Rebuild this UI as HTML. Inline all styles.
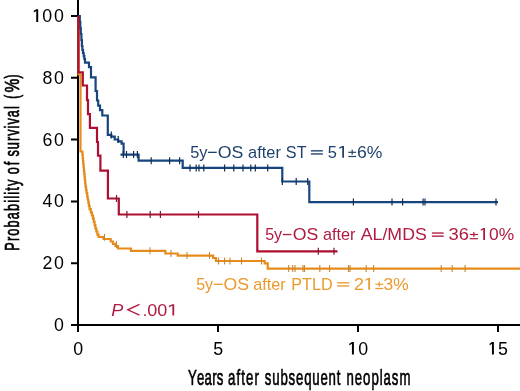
<!DOCTYPE html>
<html><head><meta charset="utf-8">
<style>
html,body{margin:0;padding:0;background:#fff;width:520px;height:391px;overflow:hidden}
svg{display:block;will-change:transform}
text{font-family:"Liberation Sans",sans-serif;font-kerning:none}
</style></head>
<body>
<svg width="520" height="391" viewBox="0 0 520 391">
<rect width="520" height="391" fill="#fff"/>
<g stroke="#000" stroke-width="2" fill="none">
<path d="M78 0V326M77 325H520"/>
<path d="M71 16H78M71 77.8H78M71 139.6H78M71 201.4H78M71 263.2H78M71 325H78"/>
<path d="M78 325V332M218 325V332M358 325V332M498 325V332"/>
</g>
<text x="42.60" y="83.90" font-size="17.8" fill="#000" letter-spacing="1.50" >80</text>
<text x="42.60" y="145.60" font-size="17.8" fill="#000" letter-spacing="1.50" >60</text>
<text x="42.60" y="207.40" font-size="17.8" fill="#000" letter-spacing="1.50" >40</text>
<text x="42.60" y="269.20" font-size="17.8" fill="#000" letter-spacing="1.50" >20</text>
<text x="54.00" y="330.70" font-size="17.8" fill="#000" letter-spacing="1.50" >0</text>
<path d="M38.20 9.20V21.90H36.24V10.89L33.80 12.49V10.80L36.24 9.20Z" fill="#000"/>
<text x="42.30" y="21.90" font-size="17.8" fill="#000" letter-spacing="1.79" >00</text>
<text x="73.35" y="354.70" font-size="17.8" fill="#000" letter-spacing="1.50" >0</text>
<text x="213.27" y="354.70" font-size="17.8" fill="#000" letter-spacing="1.50" >5</text>
<path d="M353.90 342.10V354.50H351.94V343.79L349.30 345.39V343.70L351.94 342.10Z" fill="#000"/>
<text x="358.30" y="354.70" font-size="17.8" fill="#000" >0</text>
<path d="M493.90 342.10V354.50H491.94V343.79L489.60 345.39V343.70L491.94 342.10Z" fill="#000"/>
<text x="498.09" y="354.70" font-size="17.8" fill="#000" >5</text>
<text transform="matrix(0.5800 0 0 1 188.01 385.20)" font-size="22.8" letter-spacing="0.355" fill="#000" stroke="#000" stroke-width="0.7">Years</text>
<text transform="matrix(0.5800 0 0 1 228.04 385.20)" font-size="22.8" letter-spacing="1.862" fill="#000" stroke="#000" stroke-width="0.7">after</text>
<text transform="matrix(0.5800 0 0 1 264.83 385.20)" font-size="22.8" letter-spacing="1.396" fill="#000" stroke="#000" stroke-width="0.7">subsequent</text>
<text transform="matrix(0.5800 0 0 1 346.52 385.20)" font-size="22.8" letter-spacing="1.628" fill="#000" stroke="#000" stroke-width="0.7">neoplasm</text>
<g transform="translate(18.5 0) rotate(-90)"><text transform="matrix(0.6200 0 0 1 -250.74 0.00)" font-size="20.5" letter-spacing="1.907" fill="#000" stroke="#000" stroke-width="0.7">Probability</text><text transform="matrix(0.6200 0 0 1 -174.23 0.00)" font-size="20.5" letter-spacing="3.250" fill="#000" stroke="#000" stroke-width="0.7">of</text><text transform="matrix(0.6200 0 0 1 -156.55 0.00)" font-size="20.5" letter-spacing="1.664" fill="#000" stroke="#000" stroke-width="0.7">survival</text><text transform="matrix(0.5703 0 0 1 -98.83 0.00)" font-size="20.5" letter-spacing="0.000" fill="#000" stroke="#000" stroke-width="0.7">(</text><text transform="matrix(0.7575 0 0 1 -92.45 0.00)" font-size="20.5" letter-spacing="0.000" fill="#000" stroke="#000" stroke-width="0.7">%</text><text transform="matrix(0.5887 0 0 1 -78.47 0.00)" font-size="20.5" letter-spacing="0.000" fill="#000" stroke="#000" stroke-width="0.7">)</text></g>
<g fill="none" stroke-width="2.2" stroke-linejoin="miter" stroke-linecap="butt">
<path stroke="#e68c1d" d="M78.5 16V74.5H80.5V151.5H82.4V154.7H82.7V157.9H83.0V161.1H83.3V164.3H83.6V167.5H83.9V170.7H84.2V173.9H84.6V177.1H84.9V180.3H85.2V183.5H85.5V186.7H86.0V189.9H86.6V193.1H87.2V196.3H87.7V199.5H88.3V202.7H88.9V205.9H89.6V209.1H90.8V212.3H91.9V215.5H93.0V218.7H93.8V221.9H94.6V225.1H95.4V228.3H96.3V231.5H97.4V234.7H98.5V235.0H98.6V237H103.5V239H110.7V241.5H113V244H115.5V246H118V248.5H130.9V250.9H165.4V253.5H177.7V255.6H213.2V258H216V261H264.6V263.4H267.7V268.6H520"/>
<path d="M104.5 233.7v7M116.4 241.0v7M150 247.3v7M171 250.0v7M187 252.1v7M209.5 252.1v7M218.5 257.5v7M224.6 257.5v7M230 257.5v7M241.5 257.5v7M261.5 257.5v7M288.7 265.1v7M292.7 265.1v7M295 265.1v7M303 265.1v7M304.5 265.1v7M319.8 265.1v7M329.6 265.1v7M348.5 265.1v7M350 265.1v7M366.2 265.1v7M373.7 265.1v7M441.2 265.1v7M452.2 265.1v7M465.1 265.1v7" stroke="#c98630" stroke-width="1.1"/>
<path stroke="#16467d" d="M78 16H79.8V22H80.3V28H80.8V34H81.4V40H81.9V46H82.4V50H83V53H83.7V56H84.3V59H85V62.7H89V67.1H91V77.3H95.6V91H97V100.5H98.2V105.6H100V110.1H102.3V115.5H107.8V134.9H111.3V136.7H114.7V139.5H118.2V141.3H121.6V143.7H123.6V154.6H138.6V160.7H182.7V167.9H282.3V181.5H309.3V202.1H498M120.5 154.6H123.6"/>
<path d="M111.3 131.4v7M118.2 136.0v7M123.3 151.1v7M126.5 151.1v7M133.6 151.1v7M137.4 151.1v7M151.2 157.2v7M169.6 157.2v7M179.6 157.2v7M190 164.4v7M196.2 164.4v7M199 164.4v7M203.8 164.4v7M224.6 164.4v7M233.8 164.4v7M243 164.4v7M250.8 164.4v7M255.3 164.4v7M267.7 164.4v7M282.3 178.0v7M296.2 178.0v7M307.7 178.0v7M353.4 198.6v7M392 198.6v7M402.6 198.6v7M423.1 198.6v7M425 198.6v7M496 198.6v7" stroke="#0f2f55" stroke-width="1.2"/>
<path stroke="#ae0f31" d="M78.5 16V72.3H82.8V85.5H87V100.1H88V114.2H89.9V127.9H97V142H98V155.6H100.4V170.6H107.9V198.5H118.8V214.5H257.3V251.3H337.5"/>
<path d="M116.5 195.0v7M126.9 211.0v7M150.2 211.0v7M160.4 211.0v7M198.5 211.0v7M318.3 247.8v7M334 247.8v7" stroke="#7d1a2e" stroke-width="1.2"/>
</g>
<text transform="matrix(1.0230 0 0 1 190.14 157.90)" font-size="16" fill="#1f426c" >5y</text>
<rect x="207.90" y="151.70" width="8.80" height="1.30" fill="#1f426c"/>
<text transform="matrix(1.1098 0 0 1 217.76 157.90)" font-size="16" fill="#1f426c" >OS</text>
<text transform="matrix(1.0235 0 0 1 248.10 157.90)" font-size="16" fill="#1f426c" >after</text>
<text transform="matrix(1.0128 0 0 1 285.86 157.90)" font-size="16" fill="#1f426c" >ST</text>
<rect x="310.90" y="150.17" width="12.00" height="1.35" fill="#1f426c"/><rect x="310.90" y="153.28" width="12.00" height="1.35" fill="#1f426c"/>
<text transform="matrix(1.0282 0 0 1 327.74 157.90)" font-size="16" fill="#1f426c" >5</text>
<path d="M344.00 145.90V157.70H342.24V147.42L339.30 148.86V147.34L342.24 145.90Z" fill="#1f426c"/>
<rect x="348.30" y="151.70" width="7.80" height="1.20" fill="#1f426c"/><rect x="351.60" y="149.70" width="1.20" height="5.0" fill="#1f426c"/><rect x="348.30" y="155.90" width="7.80" height="1.20" fill="#1f426c"/>
<text transform="matrix(1.0992 0 0 1 356.91 157.90)" font-size="16" fill="#1f426c" >6%</text>
<text transform="matrix(1.0045 0 0 1 265.16 240.10)" font-size="16" fill="#b01a40" >5y</text>
<rect x="282.80" y="233.90" width="8.60" height="1.30" fill="#b01a40"/>
<text transform="matrix(1.1052 0 0 1 292.66 240.10)" font-size="16" fill="#b01a40" >OS</text>
<text transform="matrix(1.0138 0 0 1 322.91 240.10)" font-size="16" fill="#b01a40" >after</text>
<text transform="matrix(1.1088 0 0 1 360.77 240.10)" font-size="16" fill="#b01a40" >AL/MDS</text>
<rect x="431.90" y="232.37" width="11.80" height="1.35" fill="#b01a40"/><rect x="431.90" y="235.47" width="11.80" height="1.35" fill="#b01a40"/>
<text transform="matrix(1.1465 0 0 1 448.60 240.10)" font-size="16" fill="#b01a40" >36</text>
<rect x="469.80" y="233.90" width="8.10" height="1.20" fill="#b01a40"/><rect x="473.25" y="231.90" width="1.20" height="5.0" fill="#b01a40"/><rect x="469.80" y="238.10" width="8.10" height="1.20" fill="#b01a40"/>
<path d="M485.00 228.10V239.90H483.24V229.62L480.80 231.06V229.54L483.24 228.10Z" fill="#b01a40"/>
<text transform="matrix(1.0853 0 0 1 489.02 240.10)" font-size="16" fill="#b01a40" >0%</text>
<text transform="matrix(0.9984 0 0 1 196.16 289.90)" font-size="16" fill="#eb9a2b" >5y</text>
<rect x="213.80" y="283.70" width="8.90" height="1.30" fill="#eb9a2b"/>
<text transform="matrix(1.1052 0 0 1 223.56 289.90)" font-size="16" fill="#eb9a2b" >OS</text>
<text transform="matrix(1.0138 0 0 1 253.31 289.90)" font-size="16" fill="#eb9a2b" >after</text>
<text transform="matrix(1.0124 0 0 1 291.27 289.90)" font-size="16" fill="#eb9a2b" >PTLD</text>
<rect x="337.20" y="282.17" width="12.10" height="1.35" fill="#eb9a2b"/><rect x="337.20" y="285.27" width="12.10" height="1.35" fill="#eb9a2b"/>
<text transform="matrix(1.1113 0 0 1 353.91 289.90)" font-size="16" fill="#eb9a2b" >2</text>
<path d="M370.00 277.90V289.70H368.24V279.42L365.70 280.86V279.34L368.24 277.90Z" fill="#eb9a2b"/>
<rect x="375.30" y="283.70" width="8.00" height="1.20" fill="#eb9a2b"/><rect x="378.70" y="281.70" width="1.20" height="5.0" fill="#eb9a2b"/><rect x="375.30" y="287.90" width="8.00" height="1.20" fill="#eb9a2b"/>
<text transform="matrix(1.0891 0 0 1 383.44 289.90)" font-size="16" fill="#eb9a2b" >3%</text>
<text transform="matrix(1.1103 0 0 1 111.24 315.60)" font-size="16.3" fill="#b01a40" font-style="italic" >P</text>
<path d="M139.5 304.4L127.8 309.8L139.5 315.2" fill="none" stroke="#b01a40" stroke-width="1.4"/>
<text x="142.71" y="315.60" font-size="16.3" fill="#b01a40" >.</text>
<text transform="matrix(1.1034 0 0 1 147.20 315.60)" font-size="16.3" fill="#b01a40" >00</text>
<path d="M174.20 304.20V315.60H172.41V305.75L168.90 307.22V305.67L172.41 304.20Z" fill="#b01a40"/>
</svg>
</body></html>
